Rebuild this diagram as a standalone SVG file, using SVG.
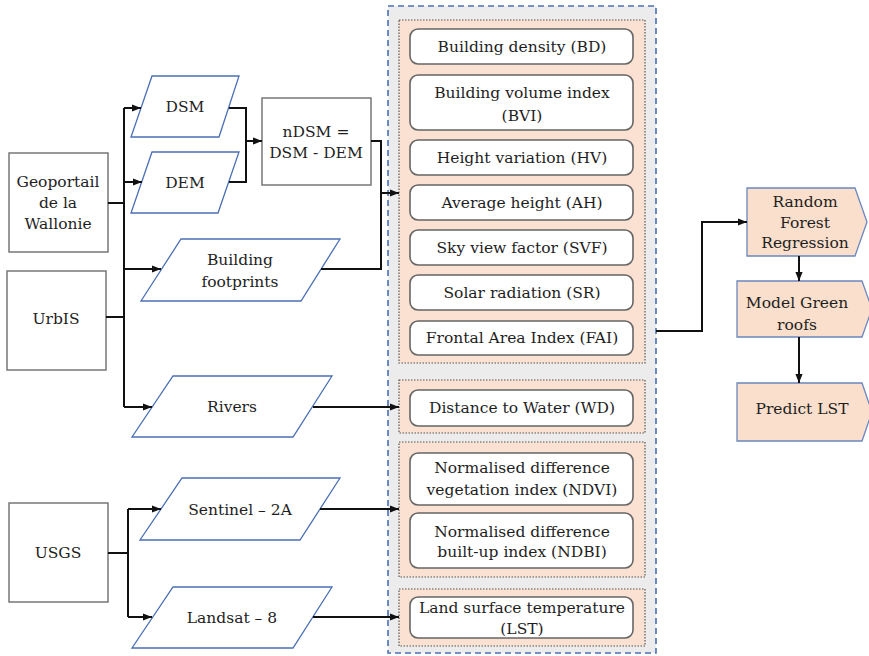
<svg xmlns="http://www.w3.org/2000/svg" width="869" height="656" viewBox="0 0 869 656">
<defs>
<style>
text{font-size:15.5px;fill:#1e1e1e;text-anchor:middle;dominant-baseline:central}
.src{fill:#fff;stroke:#777;stroke-width:1.5}
.para{fill:#fff;stroke:#4a6fb5;stroke-width:1.3}
.grp{fill:#fbe1d1;stroke:#555;stroke-width:1.2;stroke-dasharray:1.5 1.5}
.box{fill:#fff;stroke:#666;stroke-width:1.6}
.tag{fill:#f9dfcc;stroke:#6a87bf;stroke-width:1.3}
.c{fill:none;stroke:#111;stroke-width:2}
</style>
<marker id="ah" viewBox="0 0 10 10" refX="10" refY="5" markerWidth="4.5" markerHeight="4.5" orient="auto"><path d="M0,1 L10,5 L0,9 z" fill="#111"/></marker>
</defs>
<rect width="869" height="656" fill="#fff"/>
<g font-family="'DejaVu Serif', serif">
<g id="container"><rect x="388" y="6" width="268" height="647" fill="#ececec" stroke="#4a6fb5" stroke-width="1.6" stroke-dasharray="6 4"/>
<rect class="grp" x="399" y="20" width="246" height="343"/>
<rect class="grp" x="399" y="380" width="246" height="53"/>
<rect class="grp" x="399" y="442" width="246" height="135"/>
<rect class="grp" x="399" y="589" width="246" height="57"/>
</g>
<g id="geoportail"><rect class="src" x="9" y="153" width="99" height="99"/><text x="58" y="182">Geoportail</text><text x="58" y="203">de la</text><text x="58" y="224">Wallonie</text></g>
<g id="urbis"><rect class="src" x="7" y="271" width="99" height="99"/><text x="56" y="319">UrbIS</text></g>
<g id="usgs"><rect class="src" x="9" y="503" width="99" height="99"/><text x="58" y="553">USGS</text></g>
<g id="dsm"><polygon class="para" points="152,76 239,76 219,137 131,137"/><text x="185" y="107">DSM</text></g>
<g id="dem"><polygon class="para" points="152,152 239,152 218,213 131,213"/><text x="185" y="183">DEM</text></g>
<g id="ndsm"><rect class="src" x="262" y="98" width="109" height="87"/><text x="316" y="132">nDSM =</text><text x="316" y="153">DSM - DEM</text></g>
<g id="footprints"><polygon class="para" points="181,239 340,239 301,301 141,301"/><text x="240" y="260">Building</text><text x="240" y="282">footprints</text></g>
<g id="rivers"><polygon class="para" points="173,376 332,376 293,437 132,437"/><text x="232" y="407">Rivers</text></g>
<g id="sentinel"><polygon class="para" points="182,478 340,478 300,540 140,540"/><text x="240" y="510">Sentinel – 2A</text></g>
<g id="landsat"><polygon class="para" points="173,587 332,587 293,648 132,648"/><text x="232" y="618">Landsat – 8</text></g>
<g id="bd"><rect class="box" x="410" y="29" width="223" height="35" rx="8"/><text x="522" y="47">Building density (BD)</text></g>
<g id="bvi"><rect class="box" x="410" y="75" width="223" height="55" rx="8"/><text x="522" y="93">Building volume index</text><text x="522" y="116">(BVI)</text></g>
<g id="hv"><rect class="box" x="410" y="140" width="223" height="35" rx="8"/><text x="522" y="158">Height variation (HV)</text></g>
<g id="ah-n"><rect class="box" x="410" y="185" width="223" height="35" rx="8"/><text x="522" y="203">Average height (AH)</text></g>
<g id="svf"><rect class="box" x="410" y="230" width="223" height="35" rx="8"/><text x="522" y="248">Sky view factor (SVF)</text></g>
<g id="sr"><rect class="box" x="410" y="275" width="223" height="35" rx="8"/><text x="522" y="293">Solar radiation (SR)</text></g>
<g id="fai"><rect class="box" x="410" y="321" width="223" height="34" rx="8"/><text x="522" y="338">Frontal Area Index (FAI)</text></g>
<g id="wd"><rect class="box" x="410" y="390" width="223" height="36" rx="8"/><text x="522" y="408">Distance to Water (WD)</text></g>
<g id="ndvi"><rect class="box" x="410" y="453" width="223" height="52" rx="8"/><text x="522" y="468">Normalised difference</text><text x="522" y="490">vegetation index (NDVI)</text></g>
<g id="ndbi"><rect class="box" x="410" y="513" width="223" height="55" rx="8"/><text x="522" y="532">Normalised difference</text><text x="522" y="552">built-up index (NDBI)</text></g>
<g id="lst"><rect class="box" x="410" y="597" width="223" height="41" rx="8"/><text x="522" y="608">Land surface temperature</text><text x="522" y="629">(LST)</text></g>
<g id="rfr"><polygon class="tag" points="747,188 855,188 867,222 855,256 747,256"/><text x="805" y="202">Random</text><text x="805" y="223">Forest</text><text x="805" y="243">Regression</text></g>
<g id="mgr"><polygon class="tag" points="737,281 862,281 872,309 862,337 737,337"/><text x="797" y="303">Model Green</text><text x="797" y="325">roofs</text></g>
<g id="plst"><polygon class="tag" points="737,383 862,383 872,412 862,441 737,441"/><text x="802" y="409">Predict LST</text></g>
</g>
<g id="connectors">
<path class="c" d="M108,203 H124"/>
<path class="c" d="M106,317 H124"/>
<path class="c" d="M124,108 V407"/>
<path class="c" d="M124,108 H141" marker-end="url(#ah)"/>
<path class="c" d="M124,182 H142" marker-end="url(#ah)"/>
<path class="c" d="M124,269 H161" marker-end="url(#ah)"/>
<path class="c" d="M124,407 H152" marker-end="url(#ah)"/>
<path class="c" d="M229,108 H246 V182 H229"/>
<path class="c" d="M246,141 H262" marker-end="url(#ah)"/>
<path class="c" d="M371,141 H381 V269 H321"/>
<path class="c" d="M381,193 H399" marker-end="url(#ah)"/>
<path class="c" d="M313,407 H399" marker-end="url(#ah)"/>
<path class="c" d="M108,553 H128"/>
<path class="c" d="M128,509 V617"/>
<path class="c" d="M128,509 H161" marker-end="url(#ah)"/>
<path class="c" d="M128,617 H152" marker-end="url(#ah)"/>
<path class="c" d="M320,509 H399" marker-end="url(#ah)"/>
<path class="c" d="M313,617 H399" marker-end="url(#ah)"/>
<path class="c" d="M656,331 H702 V222 H747" marker-end="url(#ah)"/>
<path class="c" d="M799,256 V281" marker-end="url(#ah)"/>
<path class="c" d="M799,337 V383" marker-end="url(#ah)"/>
</g>
</svg>
